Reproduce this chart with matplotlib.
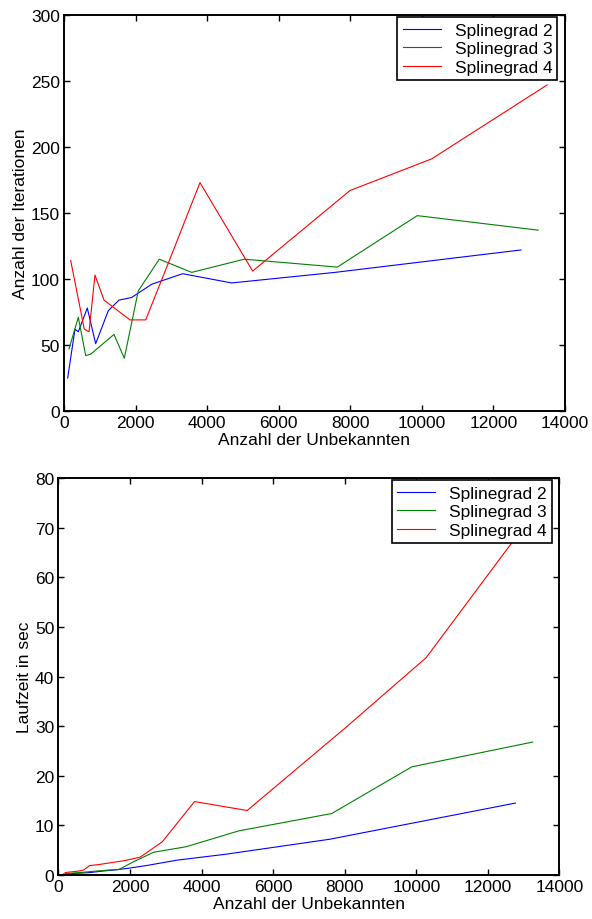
import matplotlib
matplotlib.use("Agg")
import matplotlib.pyplot as plt

plt.rcParams['font.family'] = ['Liberation Sans', 'DejaVu Sans']

# Splinegrad 2
x_grad2 = [103, 307, 400, 651, 885, 1238, 1537, 1891, 2450, 3316, 4685, 7571, 12769]
iter_grad2 = [25, 62, 60, 78, 51, 76, 84, 86, 96, 104, 97, 105, 122]
zeit_grad2 = [0.1, 0.2, 0.3, 0.4, 0.5, 0.8, 1.0, 1.3, 1.9, 3.0, 4.2, 7.2, 14.5]

# Splinegrad 3
x_grad3 = [140, 400, 606, 745, 1397, 1685, 2076, 2663, 3568, 5038, 7637, 9872, 13252]
iter_grad3 = [47, 71, 42, 43, 58, 40, 91, 115, 105, 115, 109, 148, 137]
zeit_grad3 = [0.2, 0.4, 0.5, 0.6, 1.0, 1.1, 2.6, 4.6, 5.7, 8.9, 12.4, 21.8, 26.8]

# Splinegrad 4
x_grad4 = [187, 567, 699, 866, 1118, 1844, 2283, 2900, 3800, 5272, 7991, 10274, 13500]
iter_grad4 = [114, 62, 60, 103, 84, 69, 69, 111, 173, 106, 167, 191, 247]
zeit_grad4 = [0.5, 0.8, 1.0, 1.9, 2.1, 2.9, 3.6, 6.7, 14.8, 13.0, 29.5, 43.8, 75.0]

labels = ["Splinegrad 2", "Splinegrad 3", "Splinegrad 4"]
farben = ["#0000ff", "#008000", "#ff0000"]

fs = 12.5

fig = plt.figure(figsize=(5.92, 9.2), dpi=100)
ax1 = fig.add_axes([0.1081, 0.5522, 0.8463, 0.4304])
ax2 = fig.add_axes([0.0988, 0.0478, 0.8463, 0.4315])


def style(ax):
    for s in ax.spines.values():
        s.set_linewidth(1.4)
    ax.tick_params(direction='in', top=True, right=True, length=4, width=1,
                   labelsize=fs, pad=3)
    ax.set_xlim(0, 14000)
    ax.set_xticks(range(0, 14001, 2000))
    ax.set_xlabel("Anzahl der Unbekannten", fontsize=fs, labelpad=1)


xs = [x_grad2, x_grad3, x_grad4]
for x, y, c, l in zip(xs, [iter_grad2, iter_grad3, iter_grad4], farben, labels):
    ax1.plot(x, y, color=c, lw=0.8, label=l)
style(ax1)
ax1.set_ylim(0, 300)
ax1.set_yticks(range(0, 301, 50))
ax1.set_ylabel("Anzahl der Iterationen", fontsize=fs, labelpad=2)

for x, y, c, l in zip(xs, [zeit_grad2, zeit_grad3, zeit_grad4], farben, labels):
    ax2.plot(x, y, color=c, lw=0.8, label=l)
style(ax2)
ax2.set_ylim(0, 80)
ax2.set_yticks(range(0, 81, 10))
ax2.set_ylabel("Laufzeit in sec", fontsize=fs, labelpad=2)

for ax in (ax1, ax2):
    leg = ax.legend(loc='upper right', bbox_to_anchor=(0.985, 0.994), fontsize=fs,
                    fancybox=False, framealpha=1, edgecolor='black',
                    handlelength=2.2, borderpad=0.3, labelspacing=0.2,
                    handletextpad=0.8, borderaxespad=0)
    leg.get_frame().set_linewidth(1.2)

fig.savefig("out.png", dpi=100)
